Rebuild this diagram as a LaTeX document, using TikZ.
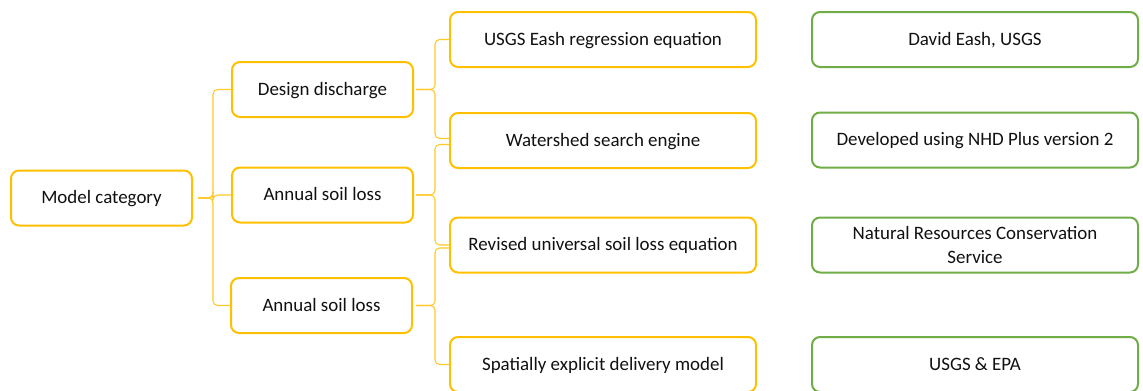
\documentclass[tikz,border=0pt]{standalone}
\usepackage{fontspec}
\setmainfont{Carlito}
\definecolor{gold}{HTML}{FFC000}
\definecolor{leaf}{HTML}{70AD47}
\definecolor{txt}{HTML}{111111}
\begin{document}
\begin{tikzpicture}[x=0.75pt,y=-0.75pt,
  box/.style={draw=gold, line width=1.5pt, rounded corners=6pt, fill=white,
    minimum height=41.25pt, inner sep=0pt, align=center, text=txt,
    font=\fontsize{14.2}{16.5}\selectfont, text depth=0.2ex},
  lvl/.style={box, minimum width=135.75pt},
  wide/.style={box, minimum width=229.5pt},
  src/.style={box, draw=leaf, minimum width=244.5pt},
  conn/.style={draw=gold!85, line width=0.8pt, rounded corners=3.5pt}]
\useasboundingbox (0,0) rectangle (1143,390);
% level 1
\node[lvl] (mc) at (101.5,198) {Model category};
% level 2
\node[lvl] (dd) at (322.5,89.5) {Design discharge};
\node[lvl] (a1) at (322.5,195) {Annual soil loss};
\node[lvl] (a2) at (321.5,305.5) {Annual soil loss};
% level 3
\node[wide] (us) at (603,39.5) {USGS Eash regression equation};
\node[wide] (ws) at (603,140.5) {Watershed search engine};
\node[wide] (rv) at (603,245) {Revised universal soil loss equation};
\node[wide] (sp) at (603,364.5) {Spatially explicit delivery model};
% sources
\node[src] (g1) at (975,39.5) {David Eash, USGS};
\node[src] (g2) at (975,140) {Developed using NHD Plus version 2};
\node[src, text depth=] (g3) at (975,245) {Natural Resources Conservation\\[2pt]Service};
\node[src] (g4) at (975,364.5) {USGS \& EPA};
% connectors level 1 -> 2
\foreach \t in {dd,a1,a2}{
  \draw[conn] ([xshift=3.75pt]mc.east) -- ++(15,0) |- (\t.west);
}
% connectors level 2 -> 3
\draw[conn] ([xshift=1.5pt]dd.east) -- ++(19,0) |- (us.west);
\draw[conn] ([xshift=1.5pt]dd.east) -- ++(19,0) |- ([yshift=1.5pt]ws.west);
\draw[conn] ([xshift=1.5pt]a1.east) -- ++(19,0) |- ([yshift=-3pt]ws.west);
\draw[conn] ([xshift=1.5pt]a1.east) -- ++(19,0) |- (rv.west);
\draw[conn] ([xshift=2.25pt]a2.east) -- ++(19,0) |- ([yshift=-2.25pt]rv.west);
\draw[conn] ([xshift=2.25pt]a2.east) -- ++(19,0) |- (sp.west);
\end{tikzpicture}
\end{document}
